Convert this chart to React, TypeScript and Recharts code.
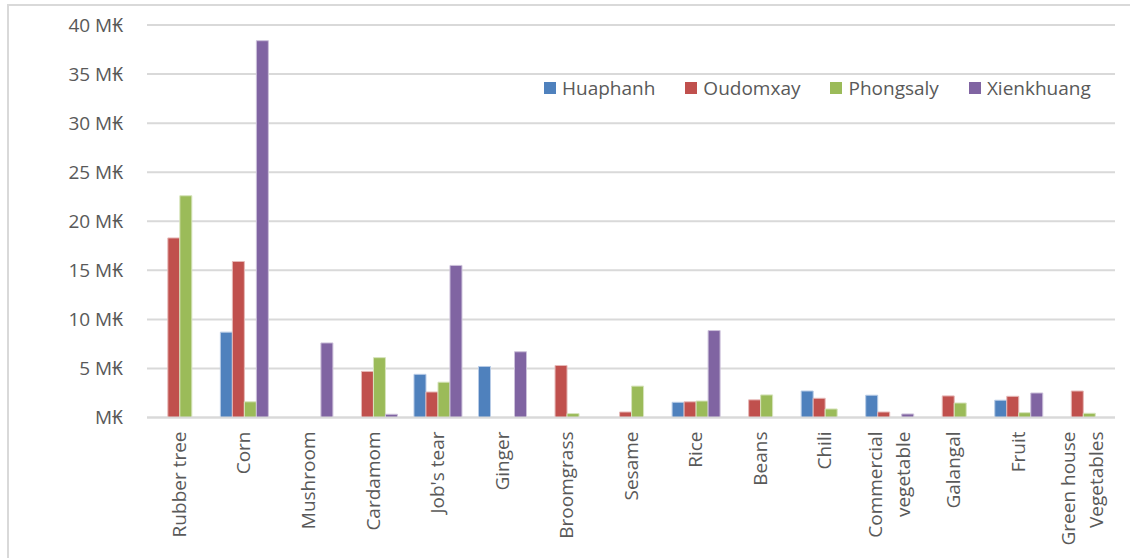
import { BarChart, Bar, XAxis, YAxis, CartesianGrid, Legend } from 'recharts';

// Crop categories (line breaks mark where the long names wrap)
const categories: string[] = [
  'Rubber tree',
  'Corn',
  'Mushroom',
  'Cardamom',
  "Job's tear",
  'Ginger',
  'Broomgrass',
  'Sesame',
  'Rice',
  'Beans',
  'Chili',
  'Commercial\nvegetable',
  'Galangal',
  'Fruit',
  'Green house\nVegetables',
];

// Income per province, in millions of kip (null = no value)
const huaphanh: (number | null)[] = [null, 8.7, null, null, 4.4, 5.2, null, null, 1.55, null, 2.7, 2.27, null, 1.76, null];
const oudomxay: (number | null)[] = [18.3, 15.9, null, 4.7, 2.6, null, 5.3, 0.56, 1.6, 1.8, 1.96, 0.56, 2.2, 2.16, 2.7];
const phongsaly: (number | null)[] = [22.6, 1.6, null, 6.1, 3.6, null, 0.4, 3.2, 1.68, 2.3, 0.87, null, 1.48, 0.49, 0.43];
const xienkhuang: (number | null)[] = [null, 38.4, 7.6, 0.33, 15.5, 6.7, null, null, 8.86, null, null, 0.36, null, 2.5, null];

const yTicks: number[] = [0, 5, 10, 15, 20, 25, 30, 35, 40];

const series = [
  { key: 'Huaphanh', values: huaphanh, color: '#4F81BD', edge: '#b7cbe6' },
  { key: 'Oudomxay', values: oudomxay, color: '#C0504D', edge: '#e6b9b8' },
  { key: 'Phongsaly', values: phongsaly, color: '#9BBB59', edge: '#d7e4bd' },
  { key: 'Xienkhuang', values: xienkhuang, color: '#8064A2', edge: '#ccc1da' },
];

const data = categories.map((name, i) => {
  const row: Record<string, string | number | null> = { name };
  series.forEach((s) => {
    row[s.key] = s.values[i];
  });
  return row;
});

const FONT = '"Open Sans", "Noto Sans", sans-serif';
const TEXT = '#595959';
const FS = 19;

const formatKip = (v: number) => (v === 0 ? 'M₭' : `${v} M₭`);

const CategoryTick = (props: any) => {
  const { x, y, payload } = props;
  const lines = String(payload.value).split('\n');
  const lh = 28;
  return (
    <g transform={`translate(${x},${y + 6}) rotate(-90)`}>
      <text textAnchor="end" fill={TEXT} fontSize={FS} fontFamily={FONT}>
        {lines.map((l, i) => (
          <tspan key={i} x={0} y={(i - (lines.length - 1) / 2) * lh} dy="0.35em">
            {l}
          </tspan>
        ))}
      </text>
    </g>
  );
};

const LegendContent = () => (
  <div style={{ display: 'flex', alignItems: 'center', fontFamily: FONT, fontSize: FS, color: TEXT }}>
    {series.map((s) => (
      <div key={s.key} style={{ display: 'flex', alignItems: 'center', marginRight: 30 }}>
        <span style={{ width: 12, height: 12, background: s.color, marginRight: 6, display: 'inline-block' }} />
        <span>{s.key}</span>
      </div>
    ))}
  </div>
);

export default function App() {
  return (
    <div style={{ position: 'relative', width: 1130, height: 558, background: '#fff', overflow: 'hidden' }}>
      <style>{'body{margin:0}'}</style>
      <div
        style={{
          position: 'absolute',
          left: 7,
          top: 4,
          width: 1140,
          height: 570,
          border: '2px solid #d9d9d9',
          boxSizing: 'border-box',
        }}
      />
      <BarChart
        width={1130}
        height={558}
        data={data}
        margin={{ top: 25, right: 15, bottom: 0, left: 0 }}
        barCategoryGap="13.7%"
        barGap={0}
      >
        <CartesianGrid vertical={false} stroke="#d9d9d9" strokeWidth={2} />
        <XAxis
          dataKey="name"
          interval={0}
          height={140.5}
          axisLine={{ stroke: '#d9d9d9', strokeWidth: 2 }}
          tickLine={false}
          tick={<CategoryTick />}
        />
        <YAxis
          width={147}
          domain={[0, 40]}
          ticks={yTicks}
          tickFormatter={formatKip}
          axisLine={false}
          tickLine={false}
          tickSize={6}
          tickMargin={18}
          tick={{ fill: TEXT, fontSize: FS, fontFamily: FONT }}
        />
        <Legend
          layout="horizontal"
          verticalAlign="middle"
          align="center"
          wrapperStyle={{ top: 75, left: 544, width: 580 }}
          content={<LegendContent />}
        />
        {series.map((s) => (
          <Bar key={s.key} dataKey={s.key} fill={s.color} stroke={s.edge} strokeWidth={1} isAnimationActive={false} />
        ))}
      </BarChart>
    </div>
  );
}
